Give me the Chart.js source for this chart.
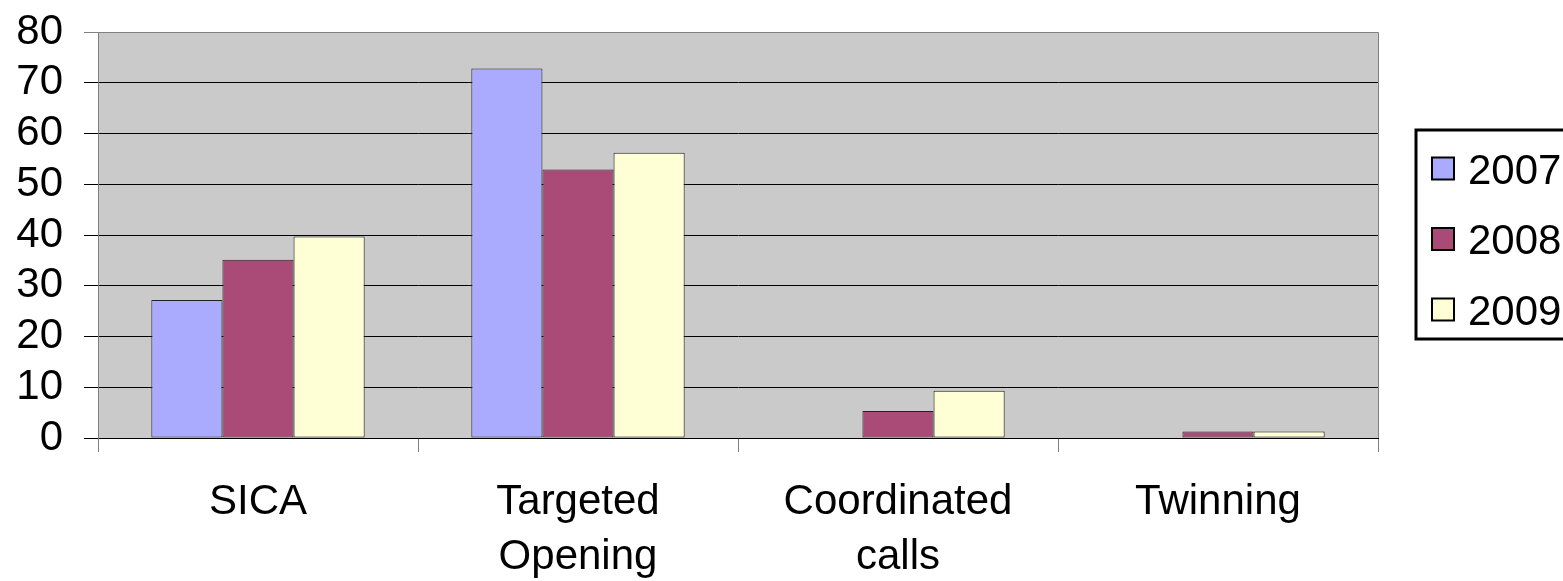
<!DOCTYPE html>
<html>
<head>
<meta charset="utf-8">
<script src="https://cdn.jsdelivr.net/npm/chart.js@4/dist/chart.umd.min.js"></script>
<style>
  body { margin: 0; background: #fff; }
</style>
</head>
<body>
<canvas id="myChart" width="1563" height="581"></canvas>
<script>
// values
var categories = [['SICA'], ['Targeted', 'Opening'], ['Coordinated', 'calls'], ['Twinning']];
var years = ['2007', '2008', '2009'];
var values2007 = [27.2, 72.8, 0, 0];
var values2008 = [35.1, 52.9, 5.3, 1.3];
var values2009 = [39.7, 56.2, 9.3, 1.3];
var yTicks = [0, 10, 20, 30, 40, 50, 60, 70, 80];

var colors = ['#AAAAFF', '#A94A77', '#FFFFD5'];
var FONT = '"Liberation Sans", Arial, sans-serif';

// grey plot area + frame
var plotBack = {
    id: 'plotBack',
    beforeDraw: function (chart) {
        var a = chart.chartArea, ctx = chart.ctx;
        ctx.save();
        ctx.fillStyle = '#CACACA';
        ctx.fillRect(a.left, a.top, a.right - a.left, a.bottom - a.top);
        ctx.strokeStyle = '#808080';
        ctx.lineWidth = 1;
        ctx.beginPath();
        ctx.moveTo(a.left, a.top + 0.5);
        ctx.lineTo(a.right + 0.5, a.top + 0.5);
        ctx.lineTo(a.right + 0.5, a.bottom);
        ctx.stroke();
        ctx.restore();
    }
};

// boxed legend on the right, like the old Excel one
var boxLegend = {
    id: 'boxLegend',
    afterDraw: function (chart) {
        var ctx = chart.ctx;
        var left = 1416, top = 130, height = 209;
        ctx.save();
        ctx.strokeStyle = '#000';
        ctx.lineWidth = 3;
        ctx.strokeRect(left, top, 300, height);
        ctx.font = '42px ' + FONT;
        ctx.textBaseline = 'alphabetic';
        chart.data.datasets.forEach(function (ds, i) {
            var cy = 168.5 + i * 70.5;
            ctx.fillStyle = ds.backgroundColor;
            ctx.fillRect(1432, cy - 11, 22, 22);
            ctx.lineWidth = 2;
            ctx.strokeStyle = '#000';
            ctx.strokeRect(1432, cy - 11, 22, 22);
            ctx.fillStyle = '#000';
            ctx.fillText(ds.label, 1468, cy + 15);
        });
        ctx.restore();
    }
};

function main() {
    var ctx = document.getElementById('myChart').getContext('2d');
    var chart = new Chart(ctx, {
        type: 'bar',
        data: {
            labels: categories,
            datasets: [
                { label: years[0], data: values2007, backgroundColor: colors[0] },
                { label: years[1], data: values2008, backgroundColor: colors[1] },
                { label: years[2], data: values2009, backgroundColor: colors[2] }
            ]
        },
        options: {
            responsive: false,
            animation: false,
            layout: { padding: { left: 16, right: 185, top: 32, bottom: 0 } },
            datasets: {
                bar: {
                    categoryPercentage: 3 / 4.5,
                    barPercentage: 1,
                    borderColor: '#222',
                    borderWidth: 1,
                    borderSkipped: false
                }
            },
            plugins: {
                legend: { display: false },
                tooltip: { enabled: false }
            },
            scales: {
                x: {
                    afterFit: function (scale) { scale.height = 143; },
                    grid: {
                        offset: true,
                        drawOnChartArea: false,
                        drawTicks: true,
                        tickLength: 14,
                        color: '#808080'
                    },
                    border: { color: '#000', width: 1 },
                    ticks: {
                        color: '#000',
                        padding: 23,
                        maxRotation: 0,
                        autoSkip: false,
                        font: { family: FONT, size: 42, lineHeight: 1.31 }
                    }
                },
                y: {
                    min: yTicks[0],
                    max: yTicks[yTicks.length - 1],
                    afterBuildTicks: function (scale) {
                        scale.ticks = yTicks.map(function (v) { return { value: v }; });
                    },
                    afterFit: function (scale) {
                        scale.width = 82;
                        scale.paddingTop = 0;
                        scale.paddingBottom = 0;
                    },
                    grid: {
                        tickLength: 14,
                        color: function (c) {
                            return c.tick && c.tick.value === 80 ? '#808080' : '#000';
                        }
                    },
                    border: { color: '#808080', width: 1 },
                    ticks: {
                        color: '#000',
                        padding: 21,
                        autoSkip: false,
                        font: { family: FONT, size: 42, lineHeight: 0.5 }
                    }
                }
            }
        },
        plugins: [plotBack, boxLegend]
    });
}

main();
</script>
</body>
</html>
